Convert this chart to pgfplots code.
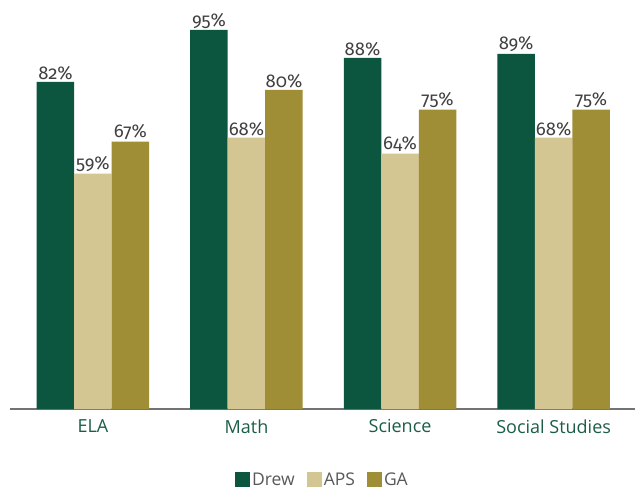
\documentclass[border=0pt]{standalone}
\usepackage{pgfplots}
\pgfplotsset{compat=1.18}
\usepackage{fontspec}
\setmainfont{Open Sans}
\newfontfamily\valfont[Numbers=OldStyle]{Fira Sans}
\definecolor{drew}{HTML}{0C5640}
\definecolor{aps}{HTML}{D4C692}
\definecolor{ga}{HTML}{A08E36}
\definecolor{lab}{HTML}{1B5E45}
\definecolor{val}{HTML}{404040}
\definecolor{leg}{HTML}{595959}
\begin{document}
\begin{tikzpicture}
\begin{axis}[
  scale only axis, width=625bp, height=399bp,
  ymin=0, ymax=100, xmin=-0.54, xmax=3.53,
  ybar=0pt, bar width=37.5bp,
  axis y line=none, axis x line*=bottom,
  x axis line style={draw=gray!90!black, line width=1.5bp, -},
  xtick={0,1,2,3}, xticklabels={ELA,Math,Science,Social Studies},
  major tick length=0pt,
  xticklabel style={font=\fontsize{18bp}{21bp}\selectfont, text=lab, yshift=-7bp},
  point meta=explicit symbolic,
  nodes near coords={{\valfont\fontsize{18.5bp}{20bp}\selectfont\pgfplotspointmeta\%}},
  nodes near coords style={text=val, inner sep=1.5bp},
  legend style={at={(0.5,0)}, anchor=center, yshift=-71bp, draw=none,
    font=\fontsize{17.5bp}{21bp}\selectfont, text=leg, legend columns=-1,
    /tikz/every even column/.append style={column sep=10bp}},
  legend image code/.code={\fill[#1] (0bp,-7bp) rectangle (15bp,8bp);},
  clip=false,
]
\addplot[fill=drew, draw=none] coordinates {(0,82)[82] (1,95)[95] (2,88)[88] (3,89)[89]};
\addplot[fill=aps, draw=none] coordinates {(0,59)[59] (1,68)[68] (2,64)[64] (3,68)[68]};
\addplot[fill=ga, draw=none] coordinates {(0,67)[67] (1,80)[80] (2,75)[75] (3,75)[75]};
\legend{Drew,APS,GA}
\end{axis}
\useasboundingbox ([xshift=-10bp,yshift=-86bp]current axis.south west) rectangle ([xshift=5bp,yshift=10bp]current axis.north east);
\end{tikzpicture}
\end{document}
